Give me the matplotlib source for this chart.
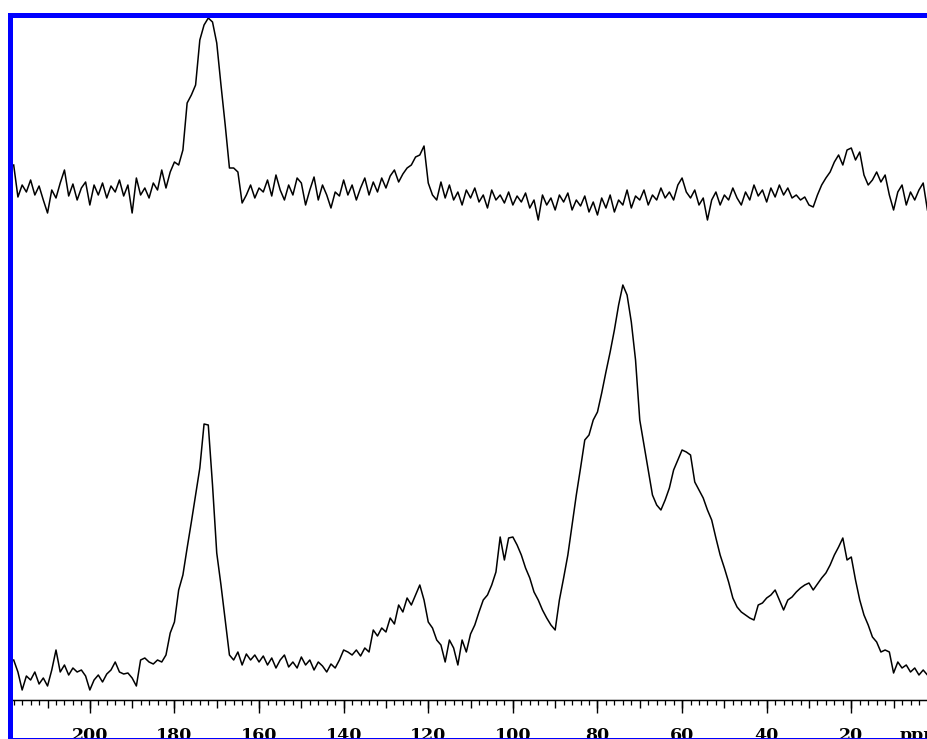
import numpy as np
import matplotlib
matplotlib.use('Agg')
import matplotlib.pyplot as plt
from matplotlib.patches import Rectangle
from matplotlib.ticker import MultipleLocator

# Desplazamiento químico (ppm), de 218 a 2 en pasos de 1 ppm
ppm = np.arange(218, 1, -1)

# Espectro superior (intensidad, unidades arbitrarias)
arriba = [
    535, 503, 515, 508, 520, 505, 514, 500, 487, 510,
    502, 517, 530, 504, 516, 500, 512, 518, 495, 515,
    505, 517, 502, 514, 508, 520, 504, 515, 487, 522,
    505, 512, 502, 517, 510, 530, 512, 528, 538, 535,
    550, 597, 605, 615, 660, 675, 682, 678, 657, 615,
    575, 532, 532, 528, 497, 505, 515, 502, 512, 508,
    520, 504, 525, 510, 500, 515, 505, 522, 517, 495,
    510, 523, 500, 515, 505, 492, 508, 504, 520, 505,
    515, 500, 512, 522, 505, 518, 508, 522, 512, 524,
    530, 518, 526, 532, 535, 543, 545, 554, 517, 505,
    500, 518, 502, 515, 500, 508, 495, 510, 502, 512,
    498, 505, 492, 510, 500, 505, 497, 508, 495, 504,
    498, 507, 492, 500, 480, 505, 495, 502, 490, 505,
    498, 507, 490, 500, 494, 504, 488, 498, 485, 502,
    492, 505, 488, 500, 495, 510, 492, 504, 500, 510,
    495, 505, 500, 512, 502, 508, 500, 515, 522, 508,
    502, 510, 495, 502, 480, 500, 508, 495, 505, 500,
    512, 502, 495, 508, 500, 515, 504, 510, 498, 512,
    503, 515, 505, 512, 502, 505, 500, 503, 495, 493,
    505, 515, 522, 528, 538, 545, 535, 550, 552, 540,
    548, 525, 515, 520, 528, 518, 525, 505, 490, 508,
    515, 495, 508, 500, 510, 517, 490,
]

# Espectro inferior
abajo = [
    40, 28, 10, 24, 20, 28, 16, 22, 14, 30,
    50, 28, 35, 25, 32, 28, 30, 24, 10, 20,
    25, 18, 26, 30, 38, 28, 26, 27, 22, 14,
    40, 42, 38, 36, 40, 38, 45, 67, 78, 110,
    125, 152, 178, 205, 232, 276, 275, 215, 147, 115,
    80, 45, 40, 48, 35, 46, 40, 45, 38, 44,
    35, 42, 32, 40, 45, 33, 38, 32, 43, 35,
    40, 30, 38, 34, 28, 36, 32, 40, 50, 48,
    45, 50, 44, 52, 48, 70, 64, 72, 68, 82,
    76, 95, 88, 102, 95, 105, 115, 100, 78, 72,
    60, 55, 38, 60, 52, 35, 60, 48, 66, 75,
    88, 100, 105, 115, 128, 163, 140, 162, 163, 155,
    145, 132, 122, 108, 100, 90, 82, 75, 70, 100,
    122, 145, 175, 205, 232, 260, 265, 280, 288, 307,
    328, 348, 370, 395, 415, 405, 378, 340, 280, 255,
    230, 205, 195, 190, 200, 212, 230, 240, 250, 248,
    245, 218, 210, 202, 190, 180, 162, 145, 132, 118,
    102, 93, 88, 85, 82, 80, 95, 97, 102, 105,
    110, 100, 90, 100, 103, 108, 112, 115, 117, 110,
    116, 122, 127, 135, 145, 153, 162, 140, 143, 120,
    100, 85, 75, 63, 58, 48, 50, 48, 27, 38,
    32, 35, 28, 32, 25, 30, 25,
]

etiquetas = ['200', '180', '160', '140', '120', '100', '80', '60', '40', '20']
valores_etiquetas = [200, 180, 160, 140, 120, 100, 80, 60, 40, 20]

W, H = 927, 739
fig = plt.figure(figsize=(W / 100, H / 100), dpi=100)
ax = fig.add_axes([12 / W, (H - 700) / H, (W - 12) / W, 685 / H])

ax.plot(ppm, abajo, color='black', lw=1.1)
ax.plot(ppm, arriba, color='black', lw=1.1)

ax.set_xlim(218.4, 2.1)
ax.set_ylim(0, 685)

for lado in ['top', 'left', 'right']:
    ax.spines[lado].set_visible(False)
ax.spines['bottom'].set_linewidth(1.0)
ax.set_yticks([])

# Marcas cada 10 (medianas) y cada 2 (menores), sin etiquetas
ax.xaxis.set_major_locator(MultipleLocator(10))
ax.xaxis.set_minor_locator(MultipleLocator(2))
ax.tick_params(axis='x', which='major', direction='out', length=5.8, width=1.0, labelbottom=False)
ax.tick_params(axis='x', which='minor', direction='out', length=3.6, width=0.9)

# Marcas principales cada 20 con etiqueta
fuente = dict(fontfamily='DejaVu Serif', fontweight='bold', fontsize=12.5)
sec = ax.secondary_xaxis('bottom')
sec.set_xticks(valores_etiquetas)
sec.set_xticklabels(etiquetas, **fuente)
sec.tick_params(direction='out', length=9.4, width=1.0, pad=10)

ax.text(8.5, -0.04, 'ppm', transform=ax.get_xaxis_transform(), ha='left', va='top',
        clip_on=False, **fuente)

# Marco azul
marco = Rectangle((9.5 / W, -0.5 / H), (W + 20) / W, (H - 14.5) / H, transform=fig.transFigure,
                  fill=False, edgecolor='#0000ff', lw=3.6, clip_on=False)
fig.patches.append(marco)

fig.savefig('out.png', dpi=100)
